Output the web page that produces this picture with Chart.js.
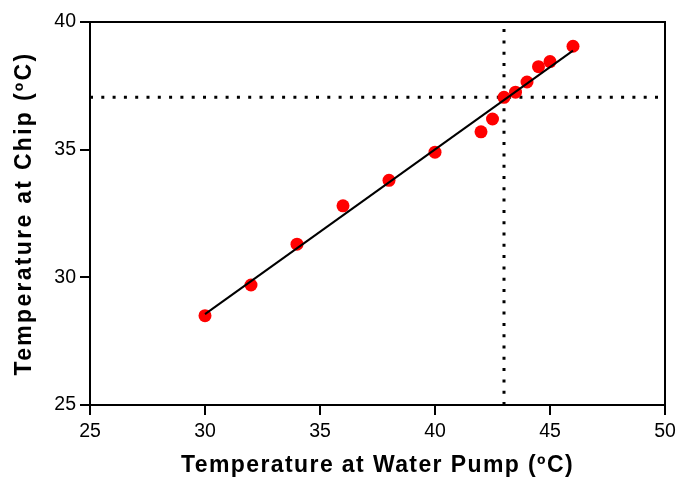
<!DOCTYPE html>
<html>
<head>
<meta charset="utf-8">
<script src="https://cdn.jsdelivr.net/npm/chart.js@4"></script>
<style>
  html, body { margin: 0; padding: 0; background: #fff; }
  #wrap { width: 676px; height: 479px; }
</style>
</head>
<body>
<div id="wrap"><canvas id="myChart" width="676" height="479"></canvas></div>
<script>
// measured points
const pumpTemp = [30, 32, 34, 36, 38, 40, 42, 42.5, 43, 43.5, 44, 44.5, 45, 46];
const chipTemp = [28.5, 29.7, 31.3, 32.8, 33.8, 34.9, 35.7, 36.2, 37.05, 37.25, 37.65, 38.25, 38.45, 39.05];

// fitted line end points
const fitX = [30, 46];
const fitY = [28.56, 38.88];

// dotted reference lines
const refX = 43;
const refY = 37.05;

const xRange = [25, 50];
const yRange = [25, 40];

const FONT = "'Liberation Sans', Arial, sans-serif";
const titleSpacing = { x: 1.4, y: 2.3 };

const boxPlugin = {
    id: 'box',
    afterDatasetsDraw(chart) {
        const a = chart.chartArea;
        const ctx = chart.ctx;
        ctx.save();
        ctx.strokeStyle = '#000';
        ctx.lineWidth = 2;
        ctx.beginPath();
        ctx.moveTo(a.left, a.top);
        ctx.lineTo(a.right, a.top);
        ctx.lineTo(a.right, a.bottom);
        ctx.stroke();
        ctx.restore();
    }
};

// wider letter spacing on the axis titles only
const spacingPlugin = {
    id: 'titleSpacing',
    afterLayout(chart) {
        ['x', 'y'].forEach(id => {
            const s = chart.scales[id];
            if (!s || s._spaced) return;
            const orig = s.drawTitle;
            s.drawTitle = function () {
                const c = this.ctx;
                c.save();
                c.letterSpacing = titleSpacing[id] + 'px';
                orig.apply(this, arguments);
                c.restore();
            };
            s._spaced = true;
        });
    }
};

const ctx = document.getElementById('myChart');

new Chart(ctx, {
    type: 'scatter',
    data: {
        datasets: [
            {
                type: 'line',
                label: 'fit',
                data: fitX.map((x, i) => ({ x: x, y: fitY[i] })),
                borderColor: '#000',
                borderWidth: 2,
                pointRadius: 0,
                order: 1
            },
            {
                label: 'Chip vs Pump',
                data: pumpTemp.map((x, i) => ({ x: x, y: chipTemp[i] })),
                backgroundColor: '#ff0000',
                borderColor: '#ff0000',
                pointRadius: 6.5,
                pointBorderWidth: 0,
                order: 2
            },
            {
                type: 'line',
                label: 'vertical',
                data: [{ x: refX, y: yRange[0] }, { x: refX, y: yRange[1] }],
                borderColor: '#000',
                borderWidth: 3,
                borderDash: [3, 8.3],
                borderCapStyle: 'butt',
                pointRadius: 0,
                order: 3
            },
            {
                type: 'line',
                label: 'horizontal',
                data: [{ x: xRange[0], y: refY }, { x: xRange[1], y: refY }],
                borderColor: '#000',
                borderWidth: 3,
                borderDash: [3, 8.3],
                borderCapStyle: 'butt',
                pointRadius: 0,
                order: 3
            }
        ]
    },
    options: {
        responsive: false,
        animation: false,
        layout: { padding: { top: 22, right: 11, left: 0, bottom: 0 } },
        plugins: {
            legend: { display: false },
            tooltip: { enabled: false }
        },
        scales: {
            x: {
                type: 'linear',
                min: xRange[0],
                max: xRange[1],
                ticks: { stepSize: 5, color: '#000', font: { family: FONT, size: 19.5 }, padding: 5 },
                grid: { drawOnChartArea: false, drawTicks: true, tickLength: 10, color: '#000', lineWidth: 2 },
                border: { display: true, color: '#000', width: 2 },
                title: {
                    display: true,
                    text: 'Temperature at Water Pump (ºC)',
                    color: '#000',
                    font: { family: FONT, size: 23, weight: 'bold' },
                    padding: { top: 4, bottom: 0 }
                },
                afterFit: s => { s.height = 74; s.paddingLeft = 0; s.paddingRight = 0; }
            },
            y: {
                type: 'linear',
                min: yRange[0],
                max: yRange[1],
                ticks: { stepSize: 5, color: '#000', font: { family: FONT, size: 19.5 }, padding: 4 },
                grid: { drawOnChartArea: false, drawTicks: true, tickLength: 10, color: '#000', lineWidth: 2 },
                border: { display: true, color: '#000', width: 2 },
                title: {
                    display: true,
                    text: 'Temperature at Chip (ºC)',
                    color: '#000',
                    font: { family: FONT, size: 23, weight: 'bold' },
                    padding: { top: 11, bottom: 4 }
                },
                afterFit: s => { s.width = 90; s.paddingTop = 0; s.paddingBottom = 0; }
            }
        }
    },
    plugins: [boxPlugin, spacingPlugin]
});
</script>
</body>
</html>
